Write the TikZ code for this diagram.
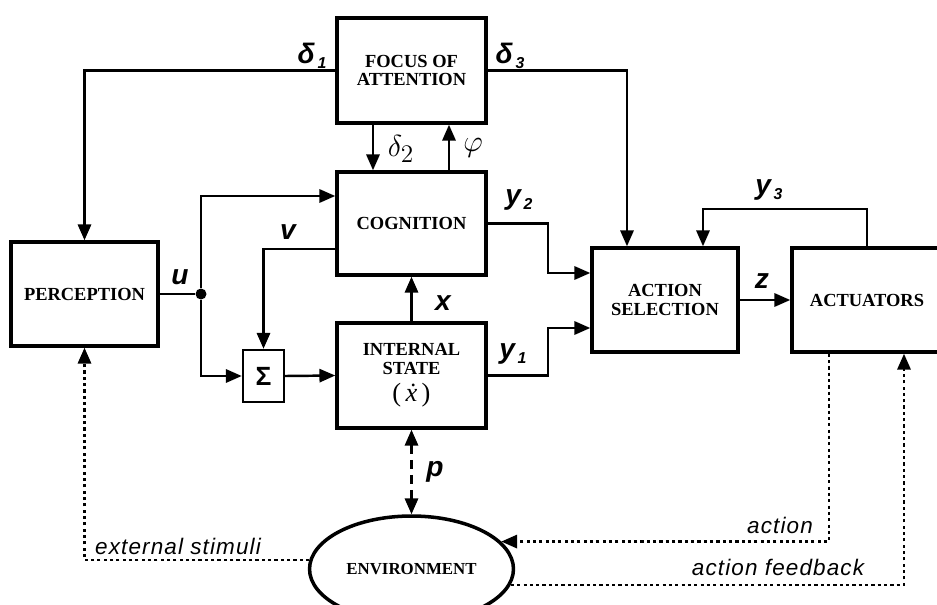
\documentclass[tikz,border=0pt]{standalone}
\usepackage{fontspec}
\setmainfont{Liberation Serif}
\setsansfont{Liberation Sans}
\newfontfamily\spacedsans[LetterSpace=5]{Liberation Sans}
\usetikzlibrary{arrows.meta,calc,shapes.geometric}

\newcommand{\lblsub}[2]{#1\hspace{1.5pt}\raisebox{-3pt}{\fontsize{9}{9}\selectfont #2}}

\begin{document}
\begin{tikzpicture}[x=0.02cm,y=-0.02cm,
    >={Triangle[length=9pt,width=7.5pt]},
    block/.style={draw,line width=2pt,align=center,font=\bfseries\fontsize{10.5}{10.5}\selectfont},
    link/.style={line width=1.4pt},
    dotlink/.style={line width=1.4pt,dash pattern=on 1.8pt off 1.8pt},
    lbl/.style={font=\sffamily\bfseries\itshape\fontsize{16}{16}\selectfont,inner sep=0pt},
    note/.style={font=\spacedsans\itshape\fontsize{12.8}{12.8}\selectfont,inner sep=0pt}]
\useasboundingbox (0,0) rectangle (937,605);

\node[block,minimum width=2.98cm,minimum height=2.1cm] (focus) at (411.5,70.5) {FOCUS OF\\ATTENTION};
\node[block,minimum width=2.98cm,minimum height=2.06cm] (cog) at (411.5,223.5) {COGNITION};
\node[block,minimum width=2.98cm,minimum height=2.1cm] (state) at (411.5,375.5) {INTERNAL\\STATE\\[4pt]{\mdseries\fontsize{15}{15}\selectfont(\,\textit{ẋ}\,)}};
\node[block,minimum width=2.94cm,minimum height=2.08cm] (perc) at (84.5,294) {PERCEPTION};
\node[draw,line width=1.4pt,minimum width=0.82cm,minimum height=1.04cm,inner sep=0pt,font=\sffamily\bfseries\fontsize{15}{15}\selectfont] (sum) at (263.5,376) {Σ};
\node[block,minimum width=2.92cm,minimum height=2.08cm] (select) at (665,300) {ACTION\\SELECTION};
\node[block,minimum width=3cm,minimum height=2.08cm] (actu) at (867,300) {ACTUATORS};
\node[block,ellipse,minimum width=4.08cm,minimum height=2.12cm,font=\bfseries\fontsize{9.6}{9.6}\selectfont] (env) at (411.5,569) {ENVIRONMENT};
\node[circle,fill,inner sep=0pt,minimum size=0.22cm] (ujoin) at (201,294) {};

\draw[link,->] (focus.west) -| (perc.north);
\draw[link,->] (focus.east) -| ($(select.north)+(-38,0)$);
\draw[link,->] ($(focus.south)+(-38.5,0)$) -- ($(cog.north)+(-38.5,0)$);
\draw[link,->] ($(cog.north)+(37.5,0)$) -- ($(focus.south)+(37.5,0)$);
\draw[link] (perc.east) -- (ujoin);
\draw[link,->] (ujoin) |- ($(cog.west)+(0,-27.5)$);
\draw[link,->] (ujoin) |- (sum.west);
\draw[link,->] ($(cog.west)+(0,25.5)$) -| (sum.north);
\draw[link,->] (sum.east) -- (state.west);
\draw[link,->] (state.north) -- (cog.south);
\draw[link,->] (cog.east) -- ++(60,0) |- ($(select.west)+(0,-27)$);
\draw[link,->] (state.east) -- ++(60,0) |- ($(select.west)+(0,28)$);
\draw[link,->] (select.east) -- (actu.west);
\draw[link,->] (actu.north) -- ++(0,-37) -| ($(select.north)+(38,0)$);
\draw[link,<->,dash pattern=on 5pt off 3.5pt] (state.south) -- (env.north);
\draw[dotlink,->] (env.175) -| (perc.south);
\draw[dotlink,->] ($(actu.south)+(-38,0)$) |- (env.17);
\draw[dotlink,->] (env.-9) -| ($(actu.south)+(37,0)$);

\node[lbl] (ldelta1) at (312,56) {\lblsub{δ}{1}};
\node[lbl] (ldelta3) at (510,56) {\lblsub{δ}{3}};
\node[font=\fontsize{19}{19}\selectfont,inner sep=0pt] (ldelta2) at (401,149) {$\delta_2$};
\node[font=\fontsize{19}{19}\selectfont,inner sep=0pt] (lphi) at (473,148) {$\varphi$};
\node[lbl] (lu) at (180,277) {u};
\node[lbl] (lv) at (288,232) {v};
\node[lbl] (lx) at (443,303) {x};
\node[lbl] (ly2) at (519,200) {\lblsub{y}{2}};
\node[lbl] (ly1) at (513,354) {\lblsub{y}{1}};
\node[lbl] (ly3) at (769,190) {\lblsub{y}{3}};
\node[lbl] (lz) at (762,281) {z};
\node[lbl] (lp) at (435,472) {p};
\node[note] (lext) at (178,546) {external stimuli};
\node[note] (lact) at (780,525) {action};
\node[note] (lfb) at (778,567) {action feedback};
\end{tikzpicture}
\end{document}
